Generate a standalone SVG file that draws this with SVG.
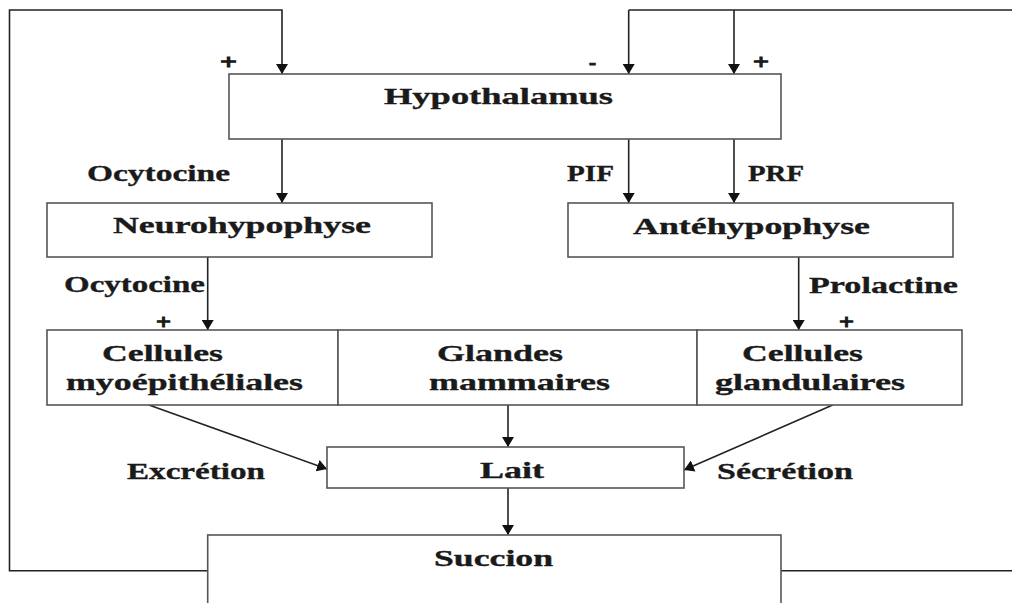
<svg xmlns="http://www.w3.org/2000/svg" width="1012" height="603" viewBox="0 0 1012 603">
<defs>
<marker id="ah" markerUnits="userSpaceOnUse" markerWidth="10" markerHeight="12" viewBox="0 0 10 12" refX="10" refY="6" orient="auto">
<path d="M0,0 L10,6 L0,12 z" fill="#111"/>
</marker>
</defs>
<style>
.box{fill:#fff;stroke:#555;stroke-width:1.6}
.ln{fill:none;stroke:#222;stroke-width:1.6}
.ar{fill:none;stroke:#222;stroke-width:1.6;marker-end:url(#ah)}
.t{font-family:"Liberation Serif","Times New Roman",serif;font-weight:bold;font-size:24px;fill:#1a1a1a;stroke:#1a1a1a;stroke-width:0.35}
.s{font-family:"Liberation Serif","Times New Roman",serif;font-weight:bold;font-size:21px;fill:#1a1a1a;stroke:#1a1a1a;stroke-width:1}
</style>
<rect width="1012" height="603" fill="#fff"/>
<g id="connectors">
<polyline class="ar" points="207.7,570.7 9.5,570.7 9.5,10 282,10 282,74"/>
<polyline class="ln" points="1012,10 628.7,10"/>
<line class="ar" x1="628.7" y1="10" x2="628.7" y2="74"/>
<line class="ar" x1="734" y1="10" x2="734" y2="74"/>
<line class="ln" x1="781" y1="570.7" x2="1012" y2="570.7"/>
<line class="ar" x1="282" y1="139" x2="282" y2="203"/>
<line class="ar" x1="628.7" y1="139" x2="628.7" y2="203"/>
<line class="ar" x1="734" y1="139" x2="734" y2="203"/>
<line class="ar" x1="207.7" y1="257" x2="207.7" y2="330"/>
<line class="ar" x1="798.7" y1="257" x2="798.7" y2="330"/>
<line class="ar" x1="149" y1="405" x2="327" y2="469"/>
<line class="ar" x1="832.7" y1="405" x2="684" y2="470"/>
<line class="ar" x1="508" y1="405" x2="508" y2="447"/>
<line class="ar" x1="508" y1="488" x2="508" y2="535"/>
<text class="s" x="220" y="69" textLength="17" lengthAdjust="spacingAndGlyphs">+</text>
<text class="s" x="589" y="69" textLength="7" lengthAdjust="spacingAndGlyphs">-</text>
<text class="s" x="753" y="69" textLength="16" lengthAdjust="spacingAndGlyphs">+</text>
<text class="s" x="156" y="329" textLength="15" lengthAdjust="spacingAndGlyphs">+</text>
<text class="s" x="839" y="329" textLength="15" lengthAdjust="spacingAndGlyphs">+</text>
<text class="t" x="87" y="181" textLength="143" lengthAdjust="spacingAndGlyphs">Ocytocine</text>
<text class="t" x="64" y="292" textLength="141" lengthAdjust="spacingAndGlyphs">Ocytocine</text>
<text class="t" x="567" y="181" textLength="47" lengthAdjust="spacingAndGlyphs">PIF</text>
<text class="t" x="748" y="181" textLength="56" lengthAdjust="spacingAndGlyphs">PRF</text>
<text class="t" x="809" y="293" textLength="149" lengthAdjust="spacingAndGlyphs">Prolactine</text>
<text class="t" x="127" y="479" textLength="138" lengthAdjust="spacingAndGlyphs">Excrétion</text>
<text class="t" x="717" y="479" textLength="136" lengthAdjust="spacingAndGlyphs">Sécrétion</text>
</g>
<g id="hypothalamus">
<rect class="box" x="229" y="74" width="552" height="65"/>
<text class="t" x="384" y="104" textLength="229" lengthAdjust="spacingAndGlyphs">Hypothalamus</text>
</g>
<g id="neurohypophyse">
<rect class="box" x="47" y="203" width="385" height="54"/>
<text class="t" x="113" y="233" textLength="258" lengthAdjust="spacingAndGlyphs">Neurohypophyse</text>
</g>
<g id="antehypophyse">
<rect class="box" x="568" y="203" width="385" height="54"/>
<text class="t" x="633" y="234" textLength="237" lengthAdjust="spacingAndGlyphs">Antéhypophyse</text>
</g>
<g id="cellules-myo">
<rect class="box" x="47" y="330" width="291" height="75"/>
<text class="t" x="102" y="361" textLength="121" lengthAdjust="spacingAndGlyphs">Cellules</text>
<text class="t" x="66" y="390" textLength="237" lengthAdjust="spacingAndGlyphs">myoépithéliales</text>
</g>
<g id="glandes">
<rect class="box" x="338" y="330" width="359" height="75"/>
<text class="t" x="437" y="361" textLength="126" lengthAdjust="spacingAndGlyphs">Glandes</text>
<text class="t" x="429" y="390" textLength="181" lengthAdjust="spacingAndGlyphs">mammaires</text>
</g>
<g id="cellules-gland">
<rect class="box" x="697" y="330" width="265" height="75"/>
<text class="t" x="742" y="361" textLength="121" lengthAdjust="spacingAndGlyphs">Cellules</text>
<text class="t" x="715" y="390" textLength="190" lengthAdjust="spacingAndGlyphs">glandulaires</text>
</g>
<g id="lait">
<rect class="box" x="327" y="447" width="357" height="41"/>
<text class="t" x="480" y="478" textLength="64" lengthAdjust="spacingAndGlyphs">Lait</text>
</g>
<g id="succion">
<rect class="box" x="207.7" y="535" width="573.3" height="80"/>
<text class="t" x="434" y="566" textLength="119" lengthAdjust="spacingAndGlyphs">Succion</text>
</g>
</svg>
